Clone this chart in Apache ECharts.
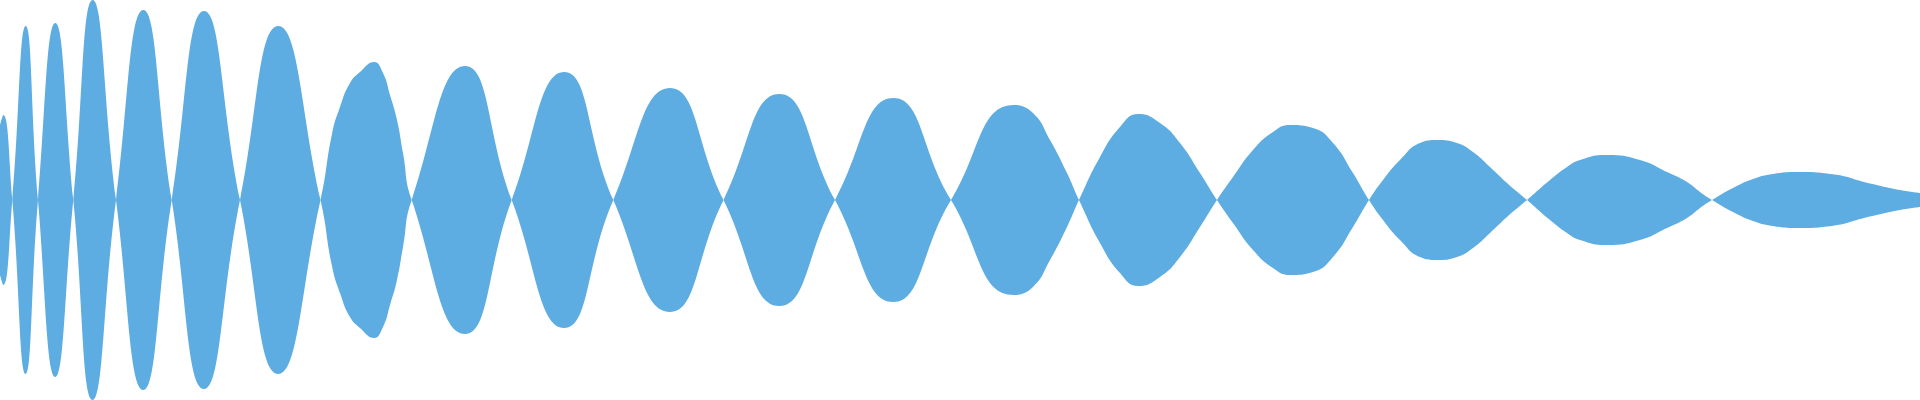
<!DOCTYPE html>
<html>
<head>
<meta charset="utf-8">
<title>wave</title>
<script src="https://cdn.jsdelivr.net/npm/echarts@6/dist/echarts.min.js"></script>
<style>
    html, body { margin: 0; padding: 0; background: #fff; }
    #div1 { width: 1920px; height: 400px; }
</style>
</head>
<body>
<div id="div1"></div>
<script>
// sample positions and signed amplitude
var times = [
    0, 3.3, 12.3,
    25.7, 38,
    55.3, 73.3,
    92.7, 116,
    143.3, 171.7,
    204, 240,
    278.3, 320.5,
    332, 340, 350, 360, 374, 383, 390, 397, 403, 411.7,
    465, 511.7,
    564.3, 613.3,
    670, 723.5,
    779.3, 835,
    893.3, 951,
    1014, 1033, 1050, 1067, 1079,
    1100, 1120, 1138, 1160, 1180, 1200, 1217,
    1233, 1253, 1273, 1290, 1313, 1333, 1353, 1369,
    1383, 1400, 1420, 1437, 1457, 1473, 1490, 1507, 1527,
    1550, 1567, 1580, 1606, 1640, 1667, 1687, 1700, 1712,
    1733, 1753, 1773, 1797, 1833, 1867, 1900, 1920
];
var signal = [
    75, 85, 0,
    -174, 0,
    177, 0,
    -200, 0,
    190, 0,
    -189, 0,
    174, 0,
    -66, -93, -117, -128, -138, -127, -105, -80, -47, 0,
    134, 0,
    -128, 0,
    112, 0,
    -106, 0,
    102, 0,
    -95, -87, -60, -27, 0,
    43, 73, 86, 77, 57, 27, 0,
    -23, -50, -68, -75, -72, -57, -27, 0,
    20, 40, 57, 60, 57, 48, 33, 17, 0,
    -20, -33, -40, -45, -40, -28, -18, -8, 0,
    12, 21, 26, 28, 25.7, 17.3, 10, 7
];

var mychart = echarts.init(document.getElementById('div1'));

var upper = [], lower = [];
for (var i = 0; i < times.length; i++) {
    upper.push([times[i], signal[i]]);
    lower.push([times[i], -signal[i]]);
}

function waveSeries(name, data) {
    return {
        name: name,
        type: 'line',
        smooth: true,
        showSymbol: false,
        silent: true,
        lineStyle: { width: 0, opacity: 0 },
        areaStyle: { color: '#5dade2', opacity: 1 },
        data: data
    };
}

var option = {
    animation: false,
    grid: { left: 0, right: 0, top: 0, bottom: 0 },
    xAxis: {
        type: 'value',
        min: 0,
        max: 1920,
        show: false
    },
    yAxis: {
        type: 'value',
        min: -200,
        max: 200,
        show: false
    },
    series: [waveSeries('wave', upper), waveSeries('mirror', lower)]
};
mychart.setOption(option);
</script>
</body>
</html>
